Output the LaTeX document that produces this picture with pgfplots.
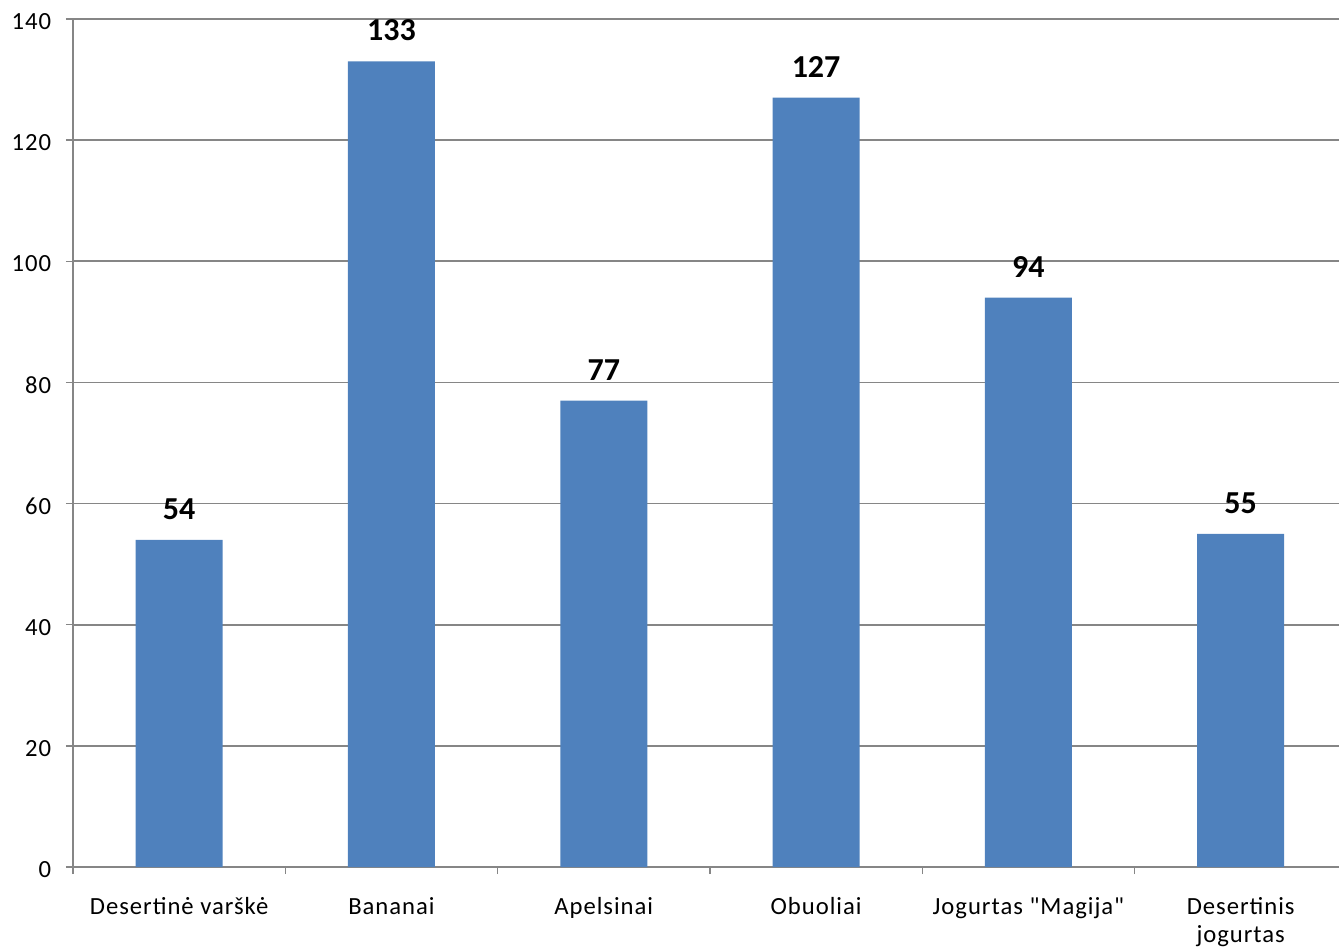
\documentclass[border=0pt]{standalone}
\usepackage{pgfplots}
\pgfplotsset{compat=1.18}
\usepackage{fontspec}
\setmainfont{Carlito}
\newfontfamily\tickfont[LetterSpace=4]{Carlito}
\definecolor{barblue}{HTML}{4F81BD}
\definecolor{gridgray}{HTML}{868686}
\newcommand\twoline[2]{\vtop{\halign{\hfil##\hfil\cr #1\cr #2\cr}}}
\begin{document}
\begin{tikzpicture}
\begin{axis}[
  scale only axis,
  width=949.5pt, height=636pt,
  xmin=-0.5, xmax=5.463,
  ymin=0, ymax=140,
  ytick={0,20,...,140},
  axis x line*=bottom, axis y line*=left,
  axis line style={gridgray, line width=1pt},
  ymajorgrids, major grid style={gridgray, line width=1.2pt},
  tick align=outside, major tick length=5.25pt,
  tick style={gridgray, line width=1pt},
  xtick={-0.5,0.5,1.5,2.5,3.5,4.5},
  xticklabels={},
  extra x ticks={0,1,2,3,4,5},
  extra x tick labels={Desertinė varškė, Bananai, Apelsinai, Obuoliai, Jogurtas "Magija", {\twoline{Desertinis}{jogurtas}}},
  extra x tick style={major tick length=0pt, grid=none},
  xticklabel style={font=\tickfont\fontsize{18.5}{21}\selectfont, inner sep=0pt, text height=12pt, anchor=north, yshift=-23.5pt},
  yticklabel style={font=\tickfont\fontsize{18.5}{21}\selectfont, inner sep=0pt, xshift=-11pt, yshift=-2pt},
  /pgf/number format/assume math mode=true,
  ybar, bar width=65.25pt,
  nodes near coords,
  nodes near coords style={font=\bfseries\fontsize{24}{28}\selectfont, anchor=south, inner sep=0pt, yshift=15pt},
  clip=false,
]
\addplot[fill=barblue, draw=none] coordinates {(0,54) (1,133) (2,77) (3,127) (4,94) (5,55)};
\end{axis}
\pgfresetboundingbox
\path[use as bounding box] (-54.75pt,-62.25pt) rectangle (949.5pt,650.25pt);
\end{tikzpicture}
\end{document}
